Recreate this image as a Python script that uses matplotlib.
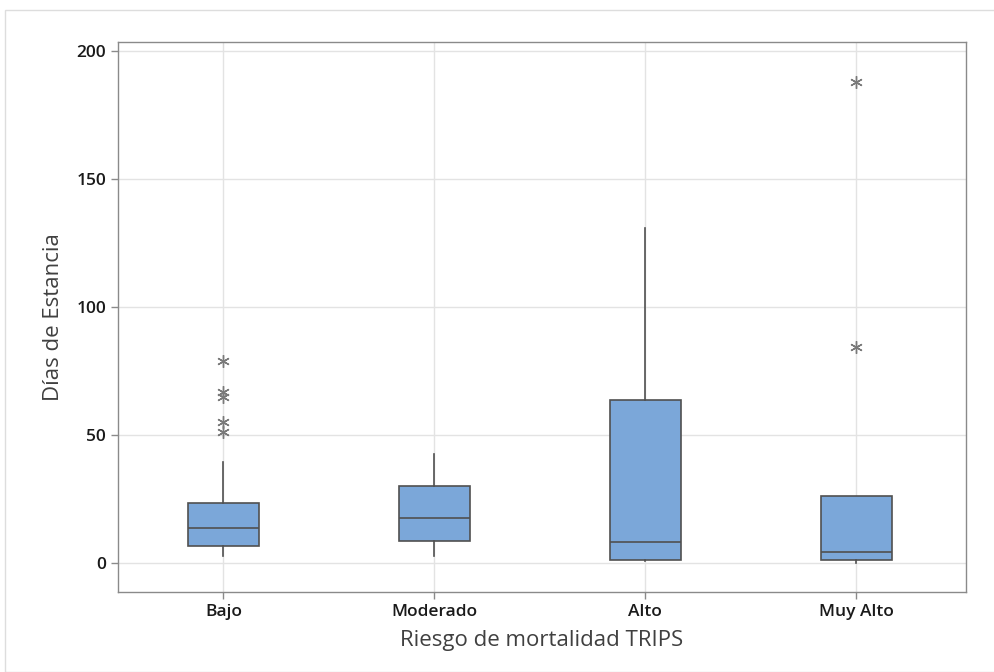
import matplotlib
matplotlib.use("Agg")
import matplotlib.pyplot as plt
from matplotlib.patches import Rectangle

# Data (días de estancia)
categories = ["Bajo", "Moderado", "Alto", "Muy Alto"]
whisker_low = [2.7, 2.7, 1.0, 0.0]
q1 = [6.6, 8.6, 1.2, 1.2]
median = [13.7, 17.6, 8.2, 4.5]
q3 = [23.5, 30.2, 63.8, 26.0]
whisker_high = [39.5, 42.6, 131.0, 26.0]
outliers = [
    [79, 67, 65, 55, 51],
    [],
    [],
    [188, 84.5],
]
y_ticks = [0, 50, 100, 150, 200]

box_color = "#7BA7D9"
edge_color = "#505050"
grid_color = "#E3E3E3"

plt.rcParams["font.family"] = ["Open Sans", "DejaVu Sans"]

fig = plt.figure(figsize=(9.95, 6.72), dpi=100)
ax = fig.add_axes([118 / 995, 1 - 592 / 672, 848 / 995, 550 / 672])

# light panel frame around the whole graph
fig.patches.append(Rectangle(
    (5 / 995, 0), 1.2, 1 - 10 / 672,
    transform=fig.transFigure,
    fill=False, edgecolor="#DDDDDD", linewidth=1.0, zorder=0
))

stats = []
for i, name in enumerate(categories):
    stats.append({
        "label": name,
        "whislo": whisker_low[i],
        "q1": q1[i],
        "med": median[i],
        "q3": q3[i],
        "whishi": whisker_high[i],
        "fliers": outliers[i],
    })

positions = list(range(1, len(categories) + 1))

ax.bxp(
    stats,
    positions=positions,
    widths=0.336,
    patch_artist=True,
    showcaps=False,
    boxprops=dict(facecolor=box_color, edgecolor=edge_color, linewidth=1.2),
    medianprops=dict(color=edge_color, linewidth=1.2),
    whiskerprops=dict(color=edge_color, linewidth=1.2),
    flierprops=dict(marker=(6, 2, 0), markersize=9,
                    markeredgecolor="#7A7A7A", markeredgewidth=1.0,
                    linestyle="none"),
    zorder=3,
)

ax.set_xlim(0.5, 4.52)
ax.set_ylim(-11.3, 203.5)
ax.set_yticks(y_ticks)
ax.set_yticklabels([str(t) for t in y_ticks], fontweight="semibold")
ax.set_xticks(positions)
ax.set_xticklabels(categories, fontweight="semibold")

ax.grid(True, color=grid_color, linewidth=1.0, zorder=0)
ax.set_axisbelow(True)

for side in ["left", "right", "top", "bottom"]:
    ax.spines[side].set_color("#8A8A8A")
    ax.spines[side].set_linewidth(1.0)

ax.tick_params(axis="both", direction="out", length=5, width=1.0,
               color="#8A8A8A", labelsize=12.5, labelcolor="#1A1A1A")

ax.set_xlabel("Riesgo de mortalidad TRIPS", fontsize=16, color="#404040",
              labelpad=7)
ax.set_ylabel("Días de Estancia", fontsize=16, color="#404040", labelpad=9)

fig.savefig("out.png", dpi=100)
